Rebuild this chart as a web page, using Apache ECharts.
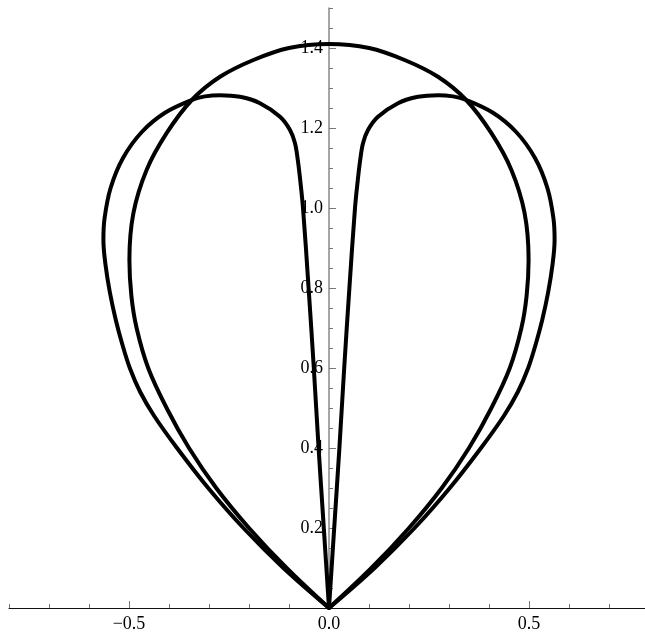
<!DOCTYPE html>
<html>
<head>
<meta charset="utf-8">
<script src="https://cdn.jsdelivr.net/npm/echarts@6/dist/echarts.min.js"></script>
<style>
  html, body { margin: 0; padding: 0; background: #fff; }
  #chart { width: 645px; height: 635px; }
</style>
</head>
<body>
<div id="chart"></div>
<script>
// teardrop curve: origin -> left side -> top -> right side -> origin
const dropCurve = [
  [0, 0], [-0.106, 0.1], [-0.2, 0.2], [-0.282, 0.3], [-0.35, 0.4],
  [-0.406, 0.5], [-0.452, 0.6], [-0.481, 0.7], [-0.494, 0.78], [-0.499, 0.87],
  [-0.489, 0.987], [-0.456, 1.095], [-0.406, 1.187], [-0.343, 1.27],
  [-0.2725, 1.328], [-0.189, 1.37], [-0.1, 1.4], [0, 1.41],
  [0.1, 1.4], [0.189, 1.37], [0.2725, 1.328], [0.343, 1.27], [0.406, 1.187],
  [0.456, 1.095], [0.489, 0.987], [0.499, 0.87], [0.494, 0.78], [0.481, 0.7],
  [0.452, 0.6], [0.406, 0.5], [0.35, 0.4], [0.282, 0.3], [0.2, 0.2],
  [0.106, 0.1], [0, 0]
];

// heart curve, left lobe: origin -> inner branch -> lobe top -> outer side -> origin
const heartLeft = [
  [0, 0], [-0.013, 0.2], [-0.026, 0.4], [-0.038, 0.6], [-0.051, 0.8],
  [-0.065, 1.0], [-0.072, 1.07], [-0.078, 1.12], [-0.085, 1.162], [-0.0975, 1.195],
  [-0.1225, 1.228], [-0.1725, 1.262], [-0.2225, 1.278], [-0.2725, 1.282],
  [-0.31, 1.279], [-0.343, 1.27], [-0.41, 1.238], [-0.468, 1.19],
  [-0.515, 1.125], [-0.546, 1.05], [-0.561, 0.975], [-0.564, 0.92],
  [-0.559, 0.86], [-0.548, 0.79], [-0.533, 0.72], [-0.517, 0.66],
  [-0.498, 0.6], [-0.472, 0.54], [-0.437, 0.48], [-0.38, 0.4],
  [-0.302, 0.3], [-0.214, 0.2], [-0.114, 0.1], [0, 0]
];

// heart curve, right lobe
const heartRight = [
  [0, 0], [0.013, 0.2], [0.026, 0.4], [0.038, 0.6], [0.051, 0.8],
  [0.065, 1.0], [0.072, 1.07], [0.078, 1.12], [0.085, 1.162], [0.0975, 1.195],
  [0.1225, 1.228], [0.1725, 1.262], [0.2225, 1.278], [0.2725, 1.282],
  [0.31, 1.279], [0.343, 1.27], [0.41, 1.238], [0.468, 1.19],
  [0.515, 1.125], [0.546, 1.05], [0.561, 0.975], [0.564, 0.92],
  [0.559, 0.86], [0.548, 0.79], [0.533, 0.72], [0.517, 0.66],
  [0.498, 0.6], [0.472, 0.54], [0.437, 0.48], [0.38, 0.4],
  [0.302, 0.3], [0.214, 0.2], [0.114, 0.1], [0, 0]
];

// ticks
const xMajorTicks = [-0.5, 0, 0.5];
const xMinorTicks = [-0.8, -0.7, -0.6, -0.5, -0.4, -0.3, -0.2, -0.1, 0, 0.1, 0.2, 0.3, 0.4, 0.5, 0.6, 0.7];
const yMajorTicks = [0.2, 0.4, 0.6, 0.8, 1.0, 1.2, 1.4];
const yMinorTicks = [0.05, 0.1, 0.15, 0.25, 0.3, 0.35, 0.45, 0.5, 0.55, 0.65, 0.7, 0.75,
  0.85, 0.9, 0.95, 1.05, 1.1, 1.15, 1.25, 1.3, 1.35, 1.45, 1.5];

const font = '"Liberation Serif", "DejaVu Serif", serif';
const fmt = v => (v < 0 ? '\u2212' : '') + Math.abs(v).toFixed(1);

// the y axis sits at x = 0, i.e. 320px right of the grid's left edge
const yAxisShift = -320;

const chart = echarts.init(document.getElementById('chart'));

function curve(data) {
  return {
    type: 'line', data, xAxisIndex: 0, yAxisIndex: 0,
    smooth: 0.35, symbol: 'none', z: 5,
    lineStyle: { color: '#000', width: 4, join: 'round', cap: 'round' }
  };
}

const option = {
  animation: false,
  grid: { left: 9, width: 636, top: 8, height: 600, containLabel: false, outerBoundsMode: 'none' },
  xAxis: [
    {
      type: 'value', min: -0.8, max: 0.79, position: 'bottom',
      axisLine: { onZero: false, lineStyle: { color: '#111', width: 1 } },
      axisTick: { inside: true, length: 7, customValues: xMajorTicks, lineStyle: { color: '#777' } },
      axisLabel: { customValues: xMajorTicks, formatter: fmt, margin: 7, color: '#000', fontFamily: font, fontSize: 18 },
      splitLine: { show: false }
    },
    {
      type: 'value', min: -0.8, max: 0.79, position: 'bottom',
      axisLine: { show: false, onZero: false },
      axisTick: { inside: true, length: 4, customValues: xMinorTicks, lineStyle: { color: '#777' } },
      axisLabel: { show: false },
      splitLine: { show: false }
    }
  ],
  yAxis: [
    {
      type: 'value', min: 0, max: 1.5, position: 'left', offset: yAxisShift,
      axisLine: { onZero: false, lineStyle: { color: '#888', width: 1.5 } },
      axisTick: { inside: true, length: 7, customValues: yMajorTicks, lineStyle: { color: '#777' } },
      axisLabel: { customValues: yMajorTicks, formatter: fmt, margin: 6, color: '#000', fontFamily: font, fontSize: 18 },
      splitLine: { show: false }
    },
    {
      type: 'value', min: 0, max: 1.5, position: 'left', offset: yAxisShift,
      axisLine: { show: false, onZero: false },
      axisTick: { inside: true, length: 4, customValues: yMinorTicks, lineStyle: { color: '#777' } },
      axisLabel: { show: false },
      splitLine: { show: false }
    }
  ],
  series: [curve(dropCurve), curve(heartLeft), curve(heartRight)]
};

chart.setOption(option);
</script>
</body>
</html>
